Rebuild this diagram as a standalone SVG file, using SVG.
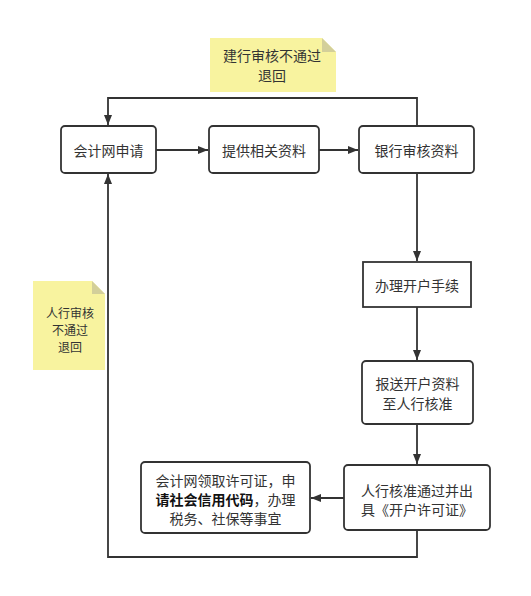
<svg xmlns="http://www.w3.org/2000/svg" width="531" height="596" viewBox="0 0 531 596">
<defs>
<marker id="arr" viewBox="0 0 10 8" refX="10" refY="4" markerWidth="10" markerHeight="8" markerUnits="userSpaceOnUse" orient="auto">
<path d="M0,0 L10,4 L0,8 Z" fill="#333"/>
</marker>
<style>
.box{fill:#fff;stroke:#333;stroke-width:1.8}
.t{font-family:"Noto Sans CJK SC","Liberation Sans",sans-serif;font-size:14px;fill:#333;text-anchor:middle;dominant-baseline:central}
.ts{font-size:12px}
.note{fill:#f8f39f}
.fold{fill:#d3cf9a}
.ln{fill:none;stroke:#333;stroke-width:1.8}
</style>
</defs>
<rect width="531" height="596" fill="#fff"/>
<g id="connectors">
<path class="ln" d="M417,126 V98 H108 V125" marker-end="url(#arr)"/>
<path class="ln" d="M156,150 H208" marker-end="url(#arr)"/>
<path class="ln" d="M319,150 H358" marker-end="url(#arr)"/>
<path class="ln" d="M417,173 V261" marker-end="url(#arr)"/>
<path class="ln" d="M417,307 V360" marker-end="url(#arr)"/>
<path class="ln" d="M417,424 V464" marker-end="url(#arr)"/>
<path class="ln" d="M344,498 H311" marker-end="url(#arr)"/>
<path class="ln" d="M417,530 V557 H108 V174" marker-end="url(#arr)"/>
</g>
<g id="note-top">
<path class="note" d="M210,38 H322 L336,52 V92 H210 Z"/>
<path class="fold" d="M322,38 L336,52 H322 Z"/>
<text class="t" x="272" y="55">建行审核不通过</text>
<text class="t" x="272" y="74.5">退回</text>
</g>
<g id="note-left">
<path class="note" d="M33,281 H92 L105,294 V370 H33 Z"/>
<path class="fold" d="M92,281 L105,294 H92 Z"/>
<text class="t ts" x="70" y="312">人行审核</text>
<text class="t ts" x="70" y="329">不通过</text>
<text class="t ts" x="70" y="346">退回</text>
</g>
<g id="n1">
<rect class="box" x="61" y="126" width="95" height="47" rx="4"/>
<text class="t" x="108.5" y="150">会计网申请</text>
</g>
<g id="n2">
<rect class="box" x="209" y="126" width="110" height="47" rx="4"/>
<text class="t" x="264" y="150">提供相关资料</text>
</g>
<g id="n3">
<rect class="box" x="359" y="126" width="115" height="47" rx="4"/>
<text class="t" x="416.5" y="150">银行审核资料</text>
</g>
<g id="n4">
<rect class="box" x="363" y="262" width="108" height="45"/>
<text class="t" x="417" y="285">办理开户手续</text>
</g>
<g id="n5">
<rect class="box" x="362" y="361" width="111" height="63" rx="4"/>
<text class="t" x="417.5" y="383">报送开户资料</text>
<text class="t" x="417.5" y="403">至人行核准</text>
</g>
<g id="n6">
<rect class="box" x="344" y="465" width="146" height="65" rx="4"/>
<text class="t" x="417" y="490">人行核准通过并出</text>
<text class="t" x="417" y="509">具《开户许可证》</text>
</g>
<g id="n7">
<rect class="box" x="141" y="462" width="169" height="71" rx="4"/>
<text class="t" x="225.5" y="479.5">会计网领取许可证，申</text>
<text class="t" x="225.5" y="498.5"><tspan font-weight="bold" fill="#111">请社会信用代码</tspan>，办理</text>
<text class="t" x="225.5" y="517.5">税务、社保等事宜</text>
</g>
</svg>
